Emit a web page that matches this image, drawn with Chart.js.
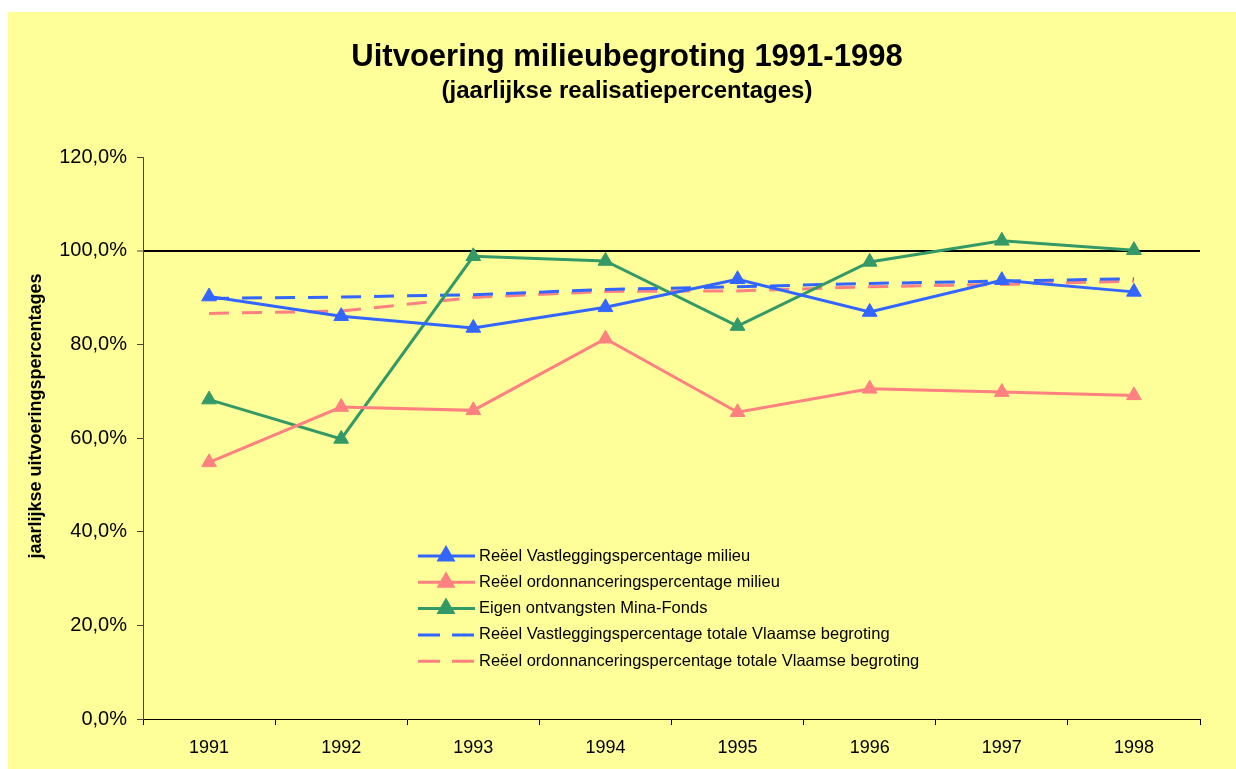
<!DOCTYPE html>
<html>
<head>
<meta charset="utf-8">
<title>Uitvoering milieubegroting 1991-1998</title>
<script src="https://cdn.jsdelivr.net/npm/chart.js@4"></script>
<style>
  body { margin: 0; background: #fff; }
  canvas { display: block; }
</style>
</head>
<body>
<canvas id="chart" width="1236" height="769"></canvas>
<script>
// Data (percentages)
const years = ['1991', '1992', '1993', '1994', '1995', '1996', '1997', '1998'];
const vastMilieu = [90.2, 86.0, 83.5, 87.9, 93.9, 86.9, 93.7, 91.2];
const ordonMilieu = [54.8, 66.6, 65.9, 81.2, 65.5, 70.5, 69.8, 69.1];
const minaFonds = [68.2, 59.8, 98.8, 97.8, 83.9, 97.6, 102.1, 100.1];
const vastTotaal = [89.8, 90.1, 90.6, 91.7, 92.3, 93.0, 93.5, 94.0];
const ordonTotaal = [86.6, 87.1, 90.0, 91.3, 91.4, 92.3, 92.8, 93.5];

const chartTitle = 'Uitvoering milieubegroting 1991-1998';
const chartSubtitle = '(jaarlijkse realisatiepercentages)';
const yAxisTitle = 'jaarlijkse uitvoeringspercentages';

const FONT = "'Liberation Sans', Arial, sans-serif";
const BLUE = '#3366FF';
const PINK = '#FF8080';
const GREEN = '#339966';

// Yellow background plus the titles (placed like the original Excel chart)
const backgroundPlugin = {
    id: 'background',
    beforeDraw(chart) {
        const ctx = chart.ctx;
        ctx.save();
        ctx.fillStyle = '#FFFF99';
        ctx.fillRect(8, 12, chart.width - 8, chart.height - 12);
        ctx.restore();
    },
    afterDraw(chart) {
        const ctx = chart.ctx;
        ctx.save();
        ctx.fillStyle = '#000';
        ctx.textAlign = 'center';
        ctx.textBaseline = 'middle';
        ctx.font = 'bold 31px ' + FONT;
        ctx.fillText(chartTitle, 627, 57);
        ctx.font = 'bold 24px ' + FONT;
        ctx.fillText(chartSubtitle, 627, 91);

        // y axis title
        ctx.translate(36, 416);
        ctx.rotate(-Math.PI / 2);
        ctx.font = 'bold 18px ' + FONT;
        ctx.fillText(yAxisTitle, 0, 0);
        ctx.restore();
    }
};

// Legend drawn inside the plot area
const insideLegend = {
    id: 'insideLegend',
    afterDraw(chart) {
        const ctx = chart.ctx;
        const x0 = 418, y0 = 556, rowH = 26.3;
        ctx.save();
        ctx.font = '16.5px ' + FONT;
        ctx.textBaseline = 'middle';
        chart.data.datasets.forEach((ds, i) => {
            const y = y0 + i * rowH;
            ctx.strokeStyle = ds.borderColor;
            ctx.fillStyle = ds.borderColor;
            ctx.lineWidth = 3;
            ctx.setLineDash(ds.borderDash ? [22, 12] : []);
            ctx.beginPath();
            ctx.moveTo(x0, y);
            ctx.lineTo(x0 + 57, y);
            ctx.stroke();
            ctx.setLineDash([]);
            if (ds.pointRadius > 0) {
                Chart.helpers.drawPoint(ctx, { pointStyle: 'triangle', radius: 8, borderWidth: 1, rotation: 0 }, x0 + 28, y);
            }
            ctx.fillStyle = '#000';
            ctx.fillText(ds.label, x0 + 61, y);
        });
        ctx.restore();
    }
};

function solid(label, data, color) {
    return {
        label: label,
        data: data,
        borderColor: color,
        backgroundColor: color,
        borderWidth: 3,
        pointStyle: 'triangle',
        pointRadius: 8.5,
        pointBorderWidth: 1,
        tension: 0
    };
}

function dashed(label, data, color) {
    return {
        label: label,
        data: data,
        borderColor: color,
        backgroundColor: color,
        borderWidth: 3,
        borderDash: [20, 13],
        pointRadius: 0,
        tension: 0
    };
}

new Chart(document.getElementById('chart'), {
    type: 'line',
    data: {
        labels: years,
        datasets: [
            solid('Reëel Vastleggingspercentage milieu', vastMilieu, BLUE),
            solid('Reëel ordonnanceringspercentage milieu', ordonMilieu, PINK),
            solid('Eigen ontvangsten Mina-Fonds', minaFonds, GREEN),
            dashed('Reëel Vastleggingspercentage totale Vlaamse begroting', vastTotaal, BLUE),
            dashed('Reëel ordonnanceringspercentage totale Vlaamse begroting', ordonTotaal, PINK)
        ]
    },
    options: {
        responsive: false,
        animation: false,
        layout: { padding: { left: 8, right: 36, top: 157, bottom: 0 } },
        plugins: {
            legend: { display: false },
            tooltip: { enabled: false }
        },
        scales: {
            x: {
                offset: true,
                afterFit(scale) { scale.height = 50; },
                grid: {
                    offset: true,
                    drawOnChartArea: false,
                    drawTicks: true,
                    tickLength: 6,
                    tickColor: '#000'
                },
                border: { color: '#000', width: 1 },
                ticks: {
                    color: '#000',
                    padding: 12,
                    font: { family: FONT, size: 18 }
                }
            },
            y: {
                min: 0,
                max: 120,
                afterFit(scale) { scale.width = 135; },
                grid: {
                    drawOnChartArea: true,
                    color: ctx => ctx.tick && ctx.tick.value === 100 ? '#000' : 'rgba(0,0,0,0)',
                    lineWidth: ctx => ctx.tick && ctx.tick.value === 100 ? 2 : 1,
                    tickLength: 6,
                    tickColor: '#444',
                    tickWidth: 1
                },
                border: { color: '#444', width: 1 },
                ticks: {
                    stepSize: 20,
                    color: '#000',
                    padding: 10,
                    font: { family: FONT, size: 20 },
                    callback: v => v.toFixed(1).replace('.', ',') + '%'
                }
            }
        }
    },
    plugins: [backgroundPlugin, insideLegend]
});
</script>
</body>
</html>
